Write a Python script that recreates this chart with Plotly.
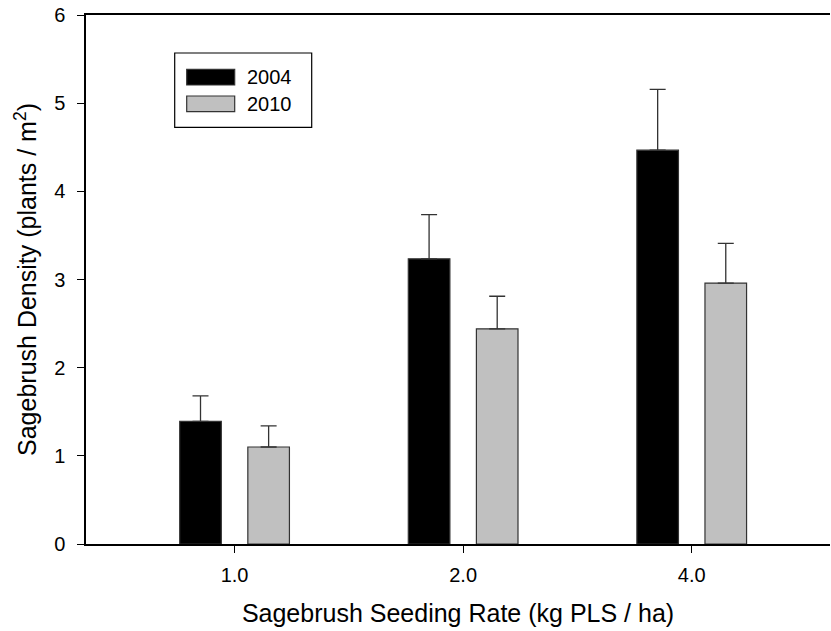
import plotly.graph_objects as go

categories = ["1.0", "2.0", "4.0"]
series_names = ["2004", "2010"]
density_2004 = [1.39, 3.235, 4.467]
err_2004 = [0.29, 0.50, 0.69]
density_2010 = [1.10, 2.44, 2.96]
err_2010 = [0.24, 0.37, 0.45]
y_ticks = [0, 1, 2, 3, 4, 5, 6]

colors = ["#000000", "#C0C0C0"]
FONT = "Liberation Sans, Arial, sans-serif"

fig = go.Figure()
bar_w = 0.182
offsets = [-0.240, 0.058]
for name, vals, errs, col, off in zip(series_names, [density_2004, density_2010],
                                       [err_2004, err_2010], colors, offsets):
    fig.add_trace(go.Bar(
        x=categories, y=vals, name=name,
        width=bar_w, offset=off,
        marker=dict(color=col, line=dict(color="#333333", width=1.2)),
        error_y=dict(type="data", array=errs, arrayminus=[0] * len(errs), symmetric=False,
                     color="#333333", thickness=1.3, width=8),
        showlegend=False,
    ))

L, R, T, B = 86, 1, 15, 87
W, H = 831, 631
pw, ph = W - L - R, H - T - B

def px(x):
    return (x - L) / pw

def py(y):
    return (H - B - y) / ph

shapes = [dict(type="rect", xref="paper", yref="paper",
               x0=px(174.7), x1=px(311.7), y0=py(127.3), y1=py(53),
               line=dict(color="#000000", width=1.2), fillcolor="white", layer="above")]
annotations = []
swatch_rows = [(69.3, 85.0), (96.0, 111.7)]
for (y0, y1), name, col in zip(swatch_rows, series_names, colors):
    shapes.append(dict(type="rect", xref="paper", yref="paper",
                       x0=px(186.7), x1=px(234.7), y0=py(y1), y1=py(y0),
                       line=dict(color="#333333", width=1.2), fillcolor=col, layer="above"))
    annotations.append(dict(xref="paper", yref="paper", x=px(245), y=py((y0 + y1) / 2),
                            text=name, showarrow=False, xanchor="left", yanchor="middle",
                            font=dict(family=FONT, size=20, color="#000000")))

fig.update_layout(
    width=W, height=H,
    margin=dict(l=L, r=R, t=T, b=B),
    paper_bgcolor="white", plot_bgcolor="white",
    barmode="overlay",
    font=dict(family=FONT, size=20, color="#000000"),
    shapes=shapes, annotations=annotations,
    xaxis=dict(
        type="category", range=[-0.65, 2.605],
        showline=True, linecolor="#000000", linewidth=1.5, mirror=True,
        ticks="outside", ticklen=7, tickwidth=1.2, tickcolor="#000000",
        showgrid=False, zeroline=False, ticklabelstandoff=5,
        title=dict(text="Sagebrush Seeding Rate (kg PLS / ha)", standoff=20,
                   font=dict(family=FONT, size=25)),
    ),
    yaxis=dict(
        range=[0, 6], tickvals=y_ticks,
        showline=True, linecolor="#000000", linewidth=1.5,
        ticks="outside", ticklen=7, tickwidth=1.2, tickcolor="#000000",
        showgrid=False, zeroline=False, ticklabelstandoff=8,
        title=dict(text="Sagebrush Density (plants / m<sup>2</sup>)", standoff=10,
                   font=dict(family=FONT, size=25)),
    ),
)

fig.write_html("out.html")
